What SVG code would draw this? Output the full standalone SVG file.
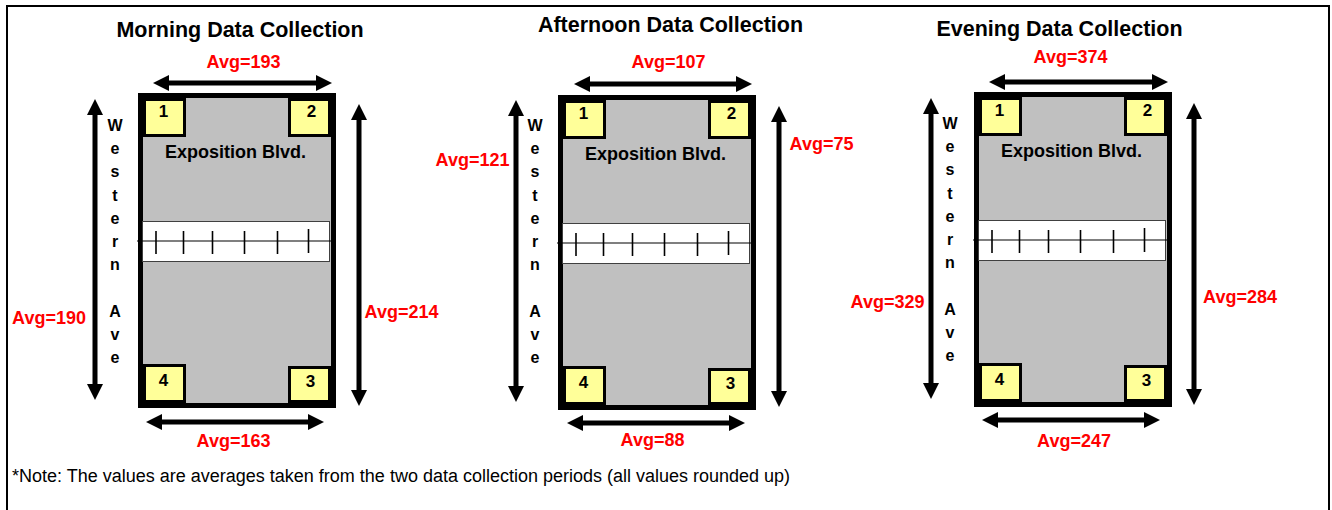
<svg xmlns="http://www.w3.org/2000/svg" width="1332" height="510" viewBox="0 0 1332 510">
<style>
.title{font-family:"Liberation Sans",Arial,sans-serif;font-weight:bold;font-size:21.5px;fill:#000;text-anchor:middle}
.avg{font-family:"Liberation Sans",Arial,sans-serif;font-weight:bold;font-size:18px;fill:#FF0000;text-anchor:middle}
.num{font-family:"Liberation Sans",Arial,sans-serif;font-weight:bold;font-size:17px;fill:#000;text-anchor:middle}
.street{font-family:"Liberation Sans",Arial,sans-serif;font-weight:bold;font-size:18px;fill:#000;text-anchor:middle}
.west{font-family:"Liberation Sans",Arial,sans-serif;font-weight:bold;font-size:16px;fill:#000;text-anchor:middle}
.note{font-family:"Liberation Sans",Arial,sans-serif;font-size:18px;fill:#000}
.lot{fill:#C0C0C0;stroke:#000;stroke-width:5}
.box{fill:#FFFF99;stroke:#000;stroke-width:3}
.cw{fill:#fff;stroke:#404040;stroke-width:1}
.cwl{stroke:#000;stroke-width:1.2}
.tick{stroke:#000;stroke-width:1.6}
.arr{stroke:#000;stroke-width:5;fill:none;marker-start:url(#ah);marker-end:url(#ah)}
</style>
<defs>
<marker id="ah" markerUnits="userSpaceOnUse" markerWidth="16" markerHeight="16" viewBox="0 0 16 16" refX="8" refY="8" orient="auto-start-reverse">
<path d="M0,0 L16,8 L0,16 z" fill="#000"/>
</marker>
<g id="block">
<rect class="lot" x="2.5" y="2.5" width="193" height="310"/>
<rect class="box" x="6.5" y="6.5" width="40" height="36"/>
<rect class="box" x="151.5" y="6.5" width="40" height="36"/>
<rect class="box" x="6.5" y="272.5" width="40" height="36"/>
<rect class="box" x="151.5" y="274.5" width="40" height="34"/>
<rect class="lot" x="2.5" y="2.5" width="193" height="310" fill="none" style="fill:none"/>
<text class="num" x="25.5" y="24">1</text>
<text class="num" x="173.5" y="24">2</text>
<text class="num" x="25.5" y="292.5">4</text>
<text class="num" x="172.5" y="294">3</text>
<text class="street" x="97.5" y="64.5">Exposition Blvd.</text>
<rect class="cw" x="4.5" y="128.5" width="187" height="40"/>
<line class="cwl" x1="-1" y1="148" x2="195" y2="148"/>
<line class="tick" x1="18" y1="138" x2="18" y2="161"/>
<line class="tick" x1="45.5" y1="138" x2="45.5" y2="161"/>
<line class="tick" x1="74.5" y1="138" x2="74.5" y2="161"/>
<line class="tick" x1="106.5" y1="138" x2="106.5" y2="161"/>
<line class="tick" x1="139.5" y1="138" x2="139.5" y2="161"/>
<line class="tick" x1="170.5" y1="136" x2="170.5" y2="160"/>
</g>
</defs>
<rect x="0" y="0" width="1332" height="510" fill="#fff"/>
<rect x="7" y="6" width="1322" height="520" fill="#fff" stroke="#000" stroke-width="2"/>

<g id="morning">
<text class="title" x="240" y="37">Morning Data Collection</text>
<use href="#block" transform="translate(138,93)"/>
<text class="west"><tspan x="115" y="131">W</tspan><tspan x="115" dy="23.2">e</tspan><tspan x="115" dy="23.2">s</tspan><tspan x="115" dy="23.2">t</tspan><tspan x="115" dy="23.2">e</tspan><tspan x="115" dy="23.2">r</tspan><tspan x="115" dy="23.2">n</tspan><tspan x="115" dy="46.4">A</tspan><tspan x="115" dy="23.2">v</tspan><tspan x="115" dy="23.2">e</tspan></text>
</g>

<g id="afternoon">
<text class="title" x="670.5" y="32">Afternoon Data Collection</text>
<use href="#block" transform="translate(558,95)"/>
<text class="west"><tspan x="535" y="131">W</tspan><tspan x="535" dy="23.2">e</tspan><tspan x="535" dy="23.2">s</tspan><tspan x="535" dy="23.2">t</tspan><tspan x="535" dy="23.2">e</tspan><tspan x="535" dy="23.2">r</tspan><tspan x="535" dy="23.2">n</tspan><tspan x="535" dy="46.4">A</tspan><tspan x="535" dy="23.2">v</tspan><tspan x="535" dy="23.2">e</tspan></text>
</g>

<g id="evening">
<text class="title" x="1059.5" y="36">Evening Data Collection</text>
<use href="#block" transform="translate(974,92)"/>
<text class="west"><tspan x="950" y="129">W</tspan><tspan x="950" dy="23.2">e</tspan><tspan x="950" dy="23.2">s</tspan><tspan x="950" dy="23.2">t</tspan><tspan x="950" dy="23.2">e</tspan><tspan x="950" dy="23.2">r</tspan><tspan x="950" dy="23.2">n</tspan><tspan x="950" dy="46.4">A</tspan><tspan x="950" dy="23.2">v</tspan><tspan x="950" dy="23.2">e</tspan></text>
</g>

<g id="connectors">
<line class="arr" x1="161" y1="83" x2="324" y2="83"/>
<line class="arr" x1="95" y1="107" x2="95" y2="392"/>
<line class="arr" x1="359" y1="112" x2="359" y2="398"/>
<line class="arr" x1="154" y1="422" x2="316" y2="422"/>

<line class="arr" x1="582" y1="84" x2="744" y2="84"/>
<line class="arr" x1="516" y1="108" x2="516" y2="394"/>
<line class="arr" x1="779" y1="114" x2="779" y2="399"/>
<line class="arr" x1="575" y1="423" x2="737" y2="423"/>

<line class="arr" x1="997" y1="82" x2="1160" y2="82"/>
<line class="arr" x1="931" y1="106" x2="931" y2="391"/>
<line class="arr" x1="1194" y1="111" x2="1194" y2="397"/>
<line class="arr" x1="990" y1="420" x2="1152" y2="420"/>
</g>

<g id="labels">
<text class="avg" x="243.5" y="68">Avg=193</text>
<text class="avg" x="49" y="324">Avg=190</text>
<text class="avg" x="401.5" y="318">Avg=214</text>
<text class="avg" x="233.5" y="447">Avg=163</text>
<text class="avg" x="668.5" y="68">Avg=107</text>
<text class="avg" x="472.5" y="166">Avg=121</text>
<text class="avg" x="821.5" y="150">Avg=75</text>
<text class="avg" x="652.5" y="446">Avg=88</text>
<text class="avg" x="1070.5" y="63">Avg=374</text>
<text class="avg" x="887.5" y="308">Avg=329</text>
<text class="avg" x="1240" y="303">Avg=284</text>
<text class="avg" x="1074" y="447">Avg=247</text>
</g>

<g id="note">
<text class="note" x="12" y="482">*Note: The values are averages taken from the two data collection periods (all values rounded up)</text>
</g>
</svg>
